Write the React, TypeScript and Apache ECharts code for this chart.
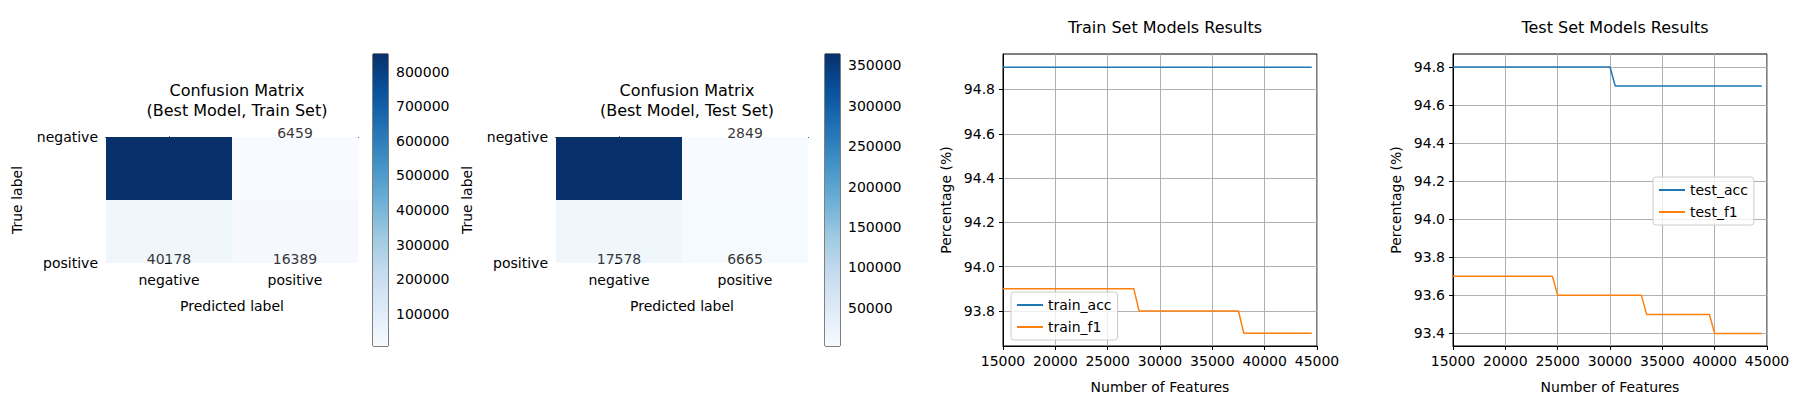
import React, { useEffect, useRef } from "react"
import * as echarts from "echarts"

const classLabels = ["negative", "positive"]
// [predicted col, true row, count]
const trainMatrix = [
  [0, 0, 851000],
  [1, 0, 6459],
  [0, 1, 40178],
  [1, 1, 16389],
]
const testMatrix = [
  [0, 0, 364000],
  [1, 0, 2849],
  [0, 1, 17578],
  [1, 1, 6665],
]
const trainTicks = [100000, 200000, 300000, 400000, 500000, 600000, 700000, 800000]
const testTicks = [50000, 100000, 150000, 200000, 250000, 300000, 350000]

const trainAccX = [15000, 44500]
const trainAccY = [94.9, 94.9]
const trainF1X = [15000, 27500, 28000, 37500, 38000, 44500]
const trainF1Y = [93.9, 93.9, 93.8, 93.8, 93.7, 93.7]
const testAccX = [15000, 30000, 30500, 44500]
const testAccY = [94.8, 94.8, 94.7, 94.7]
const testF1X = [15000, 24500, 25000, 33000, 33500, 39500, 40000, 44500]
const testF1Y = [93.7, 93.7, 93.6, 93.6, 93.5, 93.5, 93.4, 93.4]
const featureTicks = [15000, 20000, 25000, 30000, 35000, 40000, 45000]

const BLUES = ["#f7fbff", "#deebf7", "#c6dbef", "#9ecae1", "#6baed6", "#4292c6", "#2171b5", "#08519c", "#08306b"]

const hex = (c: string) => [1, 3, 5].map((i) => parseInt(c.slice(i, i + 2), 16))
const blues = (t: number) => {
  t = Math.max(0, Math.min(1, t))
  const p = t * (BLUES.length - 1)
  const i = Math.min(BLUES.length - 2, Math.floor(p))
  const f = p - i
  const a = hex(BLUES[i])
  const b = hex(BLUES[i + 1])
  const m = a.map((v, k) => Math.round(v + (b[k] - v) * f))
  return `rgb(${m.join(",")})`
}

const FONT = "DejaVu Sans"
const txt = { fontFamily: FONT, fontSize: 14, color: "#000" }
const titleTxt = { fontFamily: FONT, fontSize: 16, fontWeight: "normal" as const, color: "#000", lineHeight: 20 }
const zip = (xs: number[], ys: number[]) => xs.map((x, i) => [x, ys[i]])
const plain = (v: number) => String(v)

export default function App() {
  const ref = useRef<HTMLDivElement>(null)

  useEffect(() => {
    document.body.style.margin = "0"
    if (!ref.current) return
    const chart = echarts.init(ref.current, undefined, { renderer: "svg" })

    const grids: any[] = []
    const xAxes: any[] = []
    const yAxes: any[] = []
    const series: any[] = []
    const titles: any[] = []
    const legends: any[] = []

    const frameAxis = (gi: number, position: string, extra: any) => ({
      gridIndex: gi, type: "value", position, ...extra,
      axisLine: { show: true, lineStyle: { color: "#000" } },
      axisTick: { show: false }, axisLabel: { show: false }, splitLine: { show: false },
    })

    const addMatrix = (left: number, cbLeft: number, matrix: number[][], ticks: number[], sub: string) => {
      const min = Math.min(...matrix.map((d) => d[2]))
      const max = Math.max(...matrix.map((d) => d[2]))
      const gi = grids.length
      grids.push({ left, top: 137, width: 252, height: 126 })
      xAxes.push({
        gridIndex: gi, type: "value", min: -0.5, max: 1.5,
        name: "Predicted label", nameLocation: "middle", nameGap: 36, nameTextStyle: txt,
        axisLine: { show: true, lineStyle: { color: "#000" } },
        axisTick: { show: true, customValues: [0, 1], length: 4, lineStyle: { color: "#000" } },
        axisLabel: { ...txt, margin: 10, customValues: [0, 1], formatter: (v: number) => classLabels[v] ?? "" },
        splitLine: { show: false },
      })
      xAxes.push(frameAxis(gi, "top", { min: -0.5, max: 1.5 }))
      yAxes.push({
        gridIndex: gi, type: "value", min: 0, max: 1, inverse: true,
        name: "True label", nameLocation: "middle", nameGap: 82, nameTextStyle: txt,
        axisLine: { show: true, lineStyle: { color: "#000" } },
        axisTick: { show: true, customValues: [0, 1], length: 4, lineStyle: { color: "#000" } },
        axisLabel: { ...txt, customValues: [0, 1], formatter: (v: number) => classLabels[v] ?? "" },
        splitLine: { show: false },
      })
      yAxes.push(frameAxis(gi, "right", { min: 0, max: 1, inverse: true }))
      const xi = xAxes.length - 2
      const yi = yAxes.length - 2
      series.push({
        type: "custom", xAxisIndex: xi, yAxisIndex: yi, z: 1, data: matrix,
        renderItem: (params: any, api: any) => {
          const x = api.value(0), y = api.value(1), v = api.value(2)
          const p1 = api.coord([x - 0.5, y - 0.5])
          const p2 = api.coord([x + 0.5, y + 0.5])
          const shape = echarts.graphic.clipRectByRect(
            { x: Math.min(p1[0], p2[0]), y: Math.min(p1[1], p2[1]), width: Math.abs(p2[0] - p1[0]), height: Math.abs(p2[1] - p1[1]) },
            params.coordSys
          )
          if (!shape) return null
          return { type: "rect", shape, style: { fill: blues((v - min) / (max - min)) } }
        },
      })
      series.push({
        type: "scatter", xAxisIndex: xi, yAxisIndex: yi, symbolSize: 0, z: 5,
        data: matrix.filter((d) => d[2] !== max),
        label: { show: true, position: "inside", offset: [0, -4], ...txt, formatter: (p: any) => String(p.value[2]) },
      })
      titles.push({
        text: "Confusion Matrix\n(Best Model, " + sub + " Set)", left: left + 126, top: 75, textAlign: "center",
        textStyle: titleTxt,
      })
      // colorbar
      const ci = grids.length
      grids.push({ left: cbLeft, top: 54, width: 15, height: 292, show: true, borderColor: "#000", borderWidth: 1 })
      xAxes.push({ gridIndex: ci, type: "value", min: 0, max: 1, show: false })
      yAxes.push({
        gridIndex: ci, type: "value", min, max, position: "right",
        axisLine: { show: false },
        axisTick: { show: true, customValues: ticks, length: 4, lineStyle: { color: "#000" } },
        axisLabel: { ...txt, customValues: ticks, formatter: plain },
        splitLine: { show: false },
      })
      series.push({
        type: "custom", xAxisIndex: xAxes.length - 1, yAxisIndex: yAxes.length - 1, data: [[0]],
        renderItem: (params: any) => {
          const c = params.coordSys
          return {
            type: "rect", shape: { x: c.x, y: c.y, width: c.width, height: c.height },
            style: { fill: new echarts.graphic.LinearGradient(0, 1, 0, 0, BLUES.map((color, i) => ({ offset: i / (BLUES.length - 1), color }))) },
          }
        },
      })
    }

    const addLines = (left: number, ymin: number, ymax: number, interval: number, title: string,
      a: [string, number[], number[]], b: [string, number[], number[]], legendPos: any) => {
      const gi = grids.length
      grids.push({ left, top: 54, width: 314, height: 292, show: true, borderColor: "#000", borderWidth: 1 })
      xAxes.push({
        gridIndex: gi, type: "value", min: 15000, max: 45000, interval: 5000,
        name: "Number of Features", nameLocation: "middle", nameGap: 34, nameTextStyle: txt,
        axisLine: { show: true, lineStyle: { color: "#000" } },
        axisTick: { show: true, length: 4, lineStyle: { color: "#000" } },
        axisLabel: { ...txt, customValues: featureTicks, formatter: plain },
        splitLine: { show: true, lineStyle: { color: "#b0b0b0" } },
      })
      const yTicks: number[] = []
      for (let v = Math.ceil(ymin / interval) * interval; v <= ymax + 1e-9; v += interval) yTicks.push(Math.round(v * 10) / 10)
      yAxes.push({
        gridIndex: gi, type: "value", min: ymin, max: ymax,
        name: "Percentage (%)", nameLocation: "middle", nameGap: 50, nameTextStyle: txt,
        axisLine: { show: true, lineStyle: { color: "#000" } },
        axisTick: { show: true, customValues: yTicks, length: 4, lineStyle: { color: "#000" } },
        axisLabel: { ...txt, customValues: yTicks, formatter: (v: number) => v.toFixed(1) },
        splitLine: { show: true, lineStyle: { color: "#b0b0b0" } },
      })
      const xi = xAxes.length - 1, yi = yAxes.length - 1
      const mk = (s: [string, number[], number[]], color: string) => ({
        type: "line", name: s[0], xAxisIndex: xi, yAxisIndex: yi, showSymbol: false, symbol: "none",
        data: zip(s[1], s[2]), lineStyle: { color, width: 1.5 }, itemStyle: { color }, z: 3,
      })
      series.push(mk(a, "#1f77b4"), mk(b, "#ff7f0e"))
      titles.push({ text: title, left: left + 157, top: 12, textAlign: "center", textStyle: titleTxt })
      legends.push({
        data: [a[0], b[0]], orient: "vertical", ...legendPos, icon: "rect", itemWidth: 26, itemHeight: 2,
        itemGap: 8, padding: [6, 6], borderColor: "#ccc", borderWidth: 1, borderRadius: 3,
        backgroundColor: "rgba(255,255,255,0.8)", textStyle: txt,
      })
    }

    addMatrix(106, 373, trainMatrix, trainTicks, "Train")
    addMatrix(556, 825, testMatrix, testTicks, "Test")
    addLines(1003, 93.642, 94.96, 0.2, "Train Set Models Results",
      ["train_acc", trainAccX, trainAccY], ["train_f1", trainF1X, trainF1Y], { left: 1011, top: 292 })
    addLines(1453, 93.334, 94.868, 0.2, "Test Set Models Results",
      ["test_acc", testAccX, testAccY], ["test_f1", testF1X, testF1Y], { left: 1653, top: 177 })

    chart.setOption({
      animation: false,
      backgroundColor: "#fff",
      title: titles,
      legend: legends,
      grid: grids,
      xAxis: xAxes,
      yAxis: yAxes,
      series,
    })
    return () => chart.dispose()
  }, [])

  return <div ref={ref} style={{ width: 1800, height: 400 }} />
}
